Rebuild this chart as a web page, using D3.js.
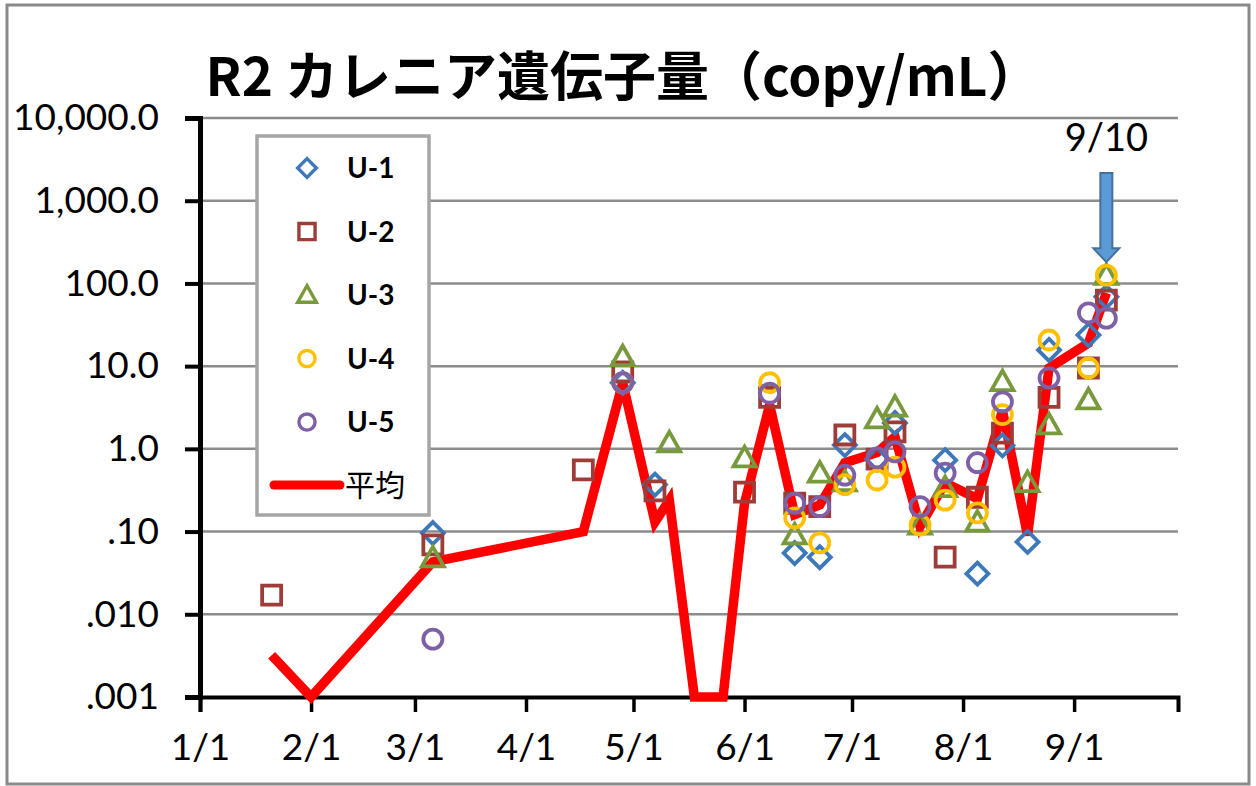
<!DOCTYPE html>
<html lang="ja">
<head>
<meta charset="UTF-8">
<title>R2 カレニア遺伝子量</title>
<script src="https://d3js.org/d3.v7.min.js"></script>
<style>
    body { margin: 0; background: #fff; }
    .num { font-family: Lato, "Open Sans", sans-serif; fill: #000; }
    .grid line { stroke: #8c8c8c; stroke-width: 2.5; }
</style>
</head>
<body>
<svg width="1256" height="786"></svg>
<script>
// sampling dates
var dates = ["2020-01-21","2020-02-01","2020-03-06","2020-04-17","2020-04-28","2020-05-07",
    "2020-05-11","2020-05-18","2020-05-26","2020-06-01","2020-06-08","2020-06-15",
    "2020-06-22","2020-06-29","2020-07-08","2020-07-13","2020-07-20","2020-07-27",
    "2020-08-05","2020-08-12","2020-08-19","2020-08-25","2020-09-05","2020-09-10"];

// copy/mL per unit (null = not plotted)
var u1 = [null,null,0.096,null,6.3,0.37,null,null,null,null,null,0.055,0.049,1.11,0.75,2.06,null,0.73,0.031,1.1,0.075,15.7,23.8,69];
var u2 = [0.017,null,0.069,0.556,8.5,0.31,null,null,null,0.30,4.2,0.22,0.20,1.47,0.75,1.6,null,0.049,0.26,1.55,null,4.2,9.5,63];
var u3 = [null,null,0.048,null,13,null,1.18,null,null,0.78,null,0.091,0.51,0.40,2.3,3.2,0.12,0.34,0.13,6.5,0.39,1.95,3.9,125];
var u4 = [null,null,null,null,6.3,null,null,null,null,null,6.3,0.146,0.073,0.37,0.42,0.6,0.12,0.24,0.168,2.6,null,20.7,9.5,126];
var u5 = [null,null,0.005,null,6.3,null,null,null,null,null,4.7,0.22,0.20,0.48,0.78,0.92,0.20,0.51,0.68,3.7,null,7.2,44,38];
var avg = [0.0032,0,0.043,0.10,6.3,0.13,0.24,0,0,0.22,3.4,0.16,0.21,0.68,0.9,1.4,0.115,0.39,0.25,2.9,0.09,9.5,19,77];

var seriesNames = ["U-1","U-2","U-3","U-4","U-5"];
var avgName = "平均";
var yTicks = [10000, 1000, 100, 10, 1, 0.1, 0.01, 0.001];
var yTickLabels = ["10,000.0","1,000.0","100.0","10.0","1.0",".10",".010",".001"];
var xTickDates = ["2020-01-01","2020-02-01","2020-03-01","2020-04-01","2020-05-01",
    "2020-06-01","2020-07-01","2020-08-01","2020-09-01"];
var xDomain = ["2020-01-01","2020-09-30"];
var noteDate = "2020-09-10", noteLabel = "9/10", noteValue = 126;
var title = "R2 カレニア遺伝子量（copy/mL）";

var parse = d3.timeParse("%Y-%m-%d");
var colors = ["#3d78b8", "#9e3c3a", "#789a3c", "#ffc000", "#7d60a5"];
var shapes = ["diamond", "square", "triangle", "circle", "circle"];

var svg = d3.select("svg");

var x = d3.scaleTime().domain(xDomain.map(parse)).range([200, 1178]);
var y = d3.scaleLog().domain([0.001, 10000]).range([697, 118]).clamp(true);

// outer frame
svg.append("rect")
    .attr("x", 7).attr("y", 5).attr("width", 1242).attr("height", 779)
    .attr("fill", "#fff").attr("stroke", "#8a8a8a").attr("stroke-width", 3);

// title
svg.append("text")
    .attr("x", 623).attr("y", 96)
    .attr("text-anchor", "middle")
    .style("font-family", "'Noto Sans CJK JP', sans-serif")
    .style("font-weight", "bold")
    .style("font-size", "53px")
    .text(title);

// gridlines
svg.append("g").attr("class", "grid")
    .selectAll("line").data(yTicks.slice(0, -1)).enter().append("line")
    .attr("x1", 200).attr("x2", 1178)
    .attr("y1", function (d) { return y(d); })
    .attr("y2", function (d) { return y(d); });

// y axis
var yAxis = svg.append("g")
    .attr("transform", "translate(200,0)")
    .call(d3.axisLeft(y).tickValues(yTicks).tickSize(15).tickPadding(26)
        .tickFormat(function (d, i) { return yTickLabels[i]; }));
yAxis.select(".domain").attr("stroke", "#000").attr("stroke-width", 5);
yAxis.selectAll(".tick line").attr("stroke", "#000").attr("stroke-width", 4);
yAxis.selectAll("text").attr("class", "num").style("font-size", "37px").attr("fill", "#000");

// x axis
var xAxis = svg.append("g")
    .attr("transform", "translate(0,697)")
    .call(d3.axisBottom(x).tickValues(xTickDates.map(parse)).tickSize(15).tickPadding(22)
        .tickFormat(d3.timeFormat("%-m/%-d")));
xAxis.select(".domain").attr("stroke", "#000").attr("stroke-width", 4);
xAxis.selectAll(".tick line").attr("stroke", "#000").attr("stroke-width", 3.5);
xAxis.selectAll("text").attr("class", "num").style("font-size", "37px").attr("fill", "#000");

// average line
var avgData = dates.map(function (d, i) { return { date: parse(d), v: avg[i] }; });
var line = d3.line()
    .x(function (d) { return x(d.date); })
    .y(function (d) { return y(d.v); });
svg.append("path")
    .datum(avgData)
    .attr("d", line)
    .attr("fill", "none")
    .attr("stroke", "#ff0000")
    .attr("stroke-width", 9.5);

function markerPath(shape) {
    if (shape === "diamond") return "M0,-11L11,0L0,11L-11,0Z";
    if (shape === "square") return "M-9.5,-9.5H9.5V9.5H-9.5Z";
    if (shape === "triangle") return "M0,-11L11,8.5H-11Z";
    return "M9.5,0A9.5,9.5 0 1,1 -9.5,0A9.5,9.5 0 1,1 9.5,0Z";
}

// markers
var allU = [u1, u2, u3, u4, u5];
allU.forEach(function (vals, s) {
    var pts = dates.map(function (d, i) { return { date: parse(d), v: vals[i] }; })
        .filter(function (d) { return d.v != null && d.v > 0; });
    svg.append("g").selectAll("path").data(pts).enter().append("path")
        .attr("transform", function (d) { return "translate(" + x(d.date) + "," + y(d.v) + ")"; })
        .attr("d", markerPath(shapes[s]))
        .attr("fill", "none")
        .attr("stroke", colors[s])
        .attr("stroke-width", 3.8);
});

// legend
var lg = svg.append("g").attr("transform", "translate(257,136)");
lg.append("rect")
    .attr("width", 172).attr("height", 379)
    .attr("fill", "#fff").attr("stroke", "#a6a6a6").attr("stroke-width", 3.5);
seriesNames.forEach(function (name, s) {
    var cy = 32 + s * 63.5;
    lg.append("path")
        .attr("transform", "translate(50," + cy + ") scale(0.85)")
        .attr("d", markerPath(shapes[s]))
        .attr("fill", "none").attr("stroke", colors[s]).attr("stroke-width", 4);
    lg.append("text")
        .attr("x", 90).attr("y", cy).attr("dy", "0.36em")
        .attr("class", "num")
        .style("font-size", "28px").style("font-weight", "bold")
        .text(name);
});
lg.append("line")
    .attr("x1", 17).attr("x2", 83).attr("y1", 349).attr("y2", 349)
    .attr("stroke", "#ff0000").attr("stroke-width", 9).attr("stroke-linecap", "round");
lg.append("text")
    .attr("x", 88).attr("y", 349).attr("dy", "0.36em")
    .style("font-family", "'Noto Sans CJK JP', sans-serif")
    .style("font-size", "30px")
    .text(avgName);

// 9/10 arrow note
var ax = x(parse(noteDate)), tipY = y(noteValue) - 13, topY = 173;
svg.append("path")
    .attr("d", "M" + (ax - 6) + "," + topY + "H" + (ax + 6) + "V" + (tipY - 14) +
        "H" + (ax + 13) + "L" + ax + "," + tipY + "L" + (ax - 13) + "," + (tipY - 14) +
        "H" + (ax - 6) + "Z")
    .attr("fill", "#5b9bd5").attr("stroke", "#41719c").attr("stroke-width", 2);
svg.append("text")
    .attr("x", ax).attr("y", 151)
    .attr("text-anchor", "middle")
    .attr("class", "num")
    .style("font-size", "38px")
    .text(noteLabel);
</script>
</body>
</html>
